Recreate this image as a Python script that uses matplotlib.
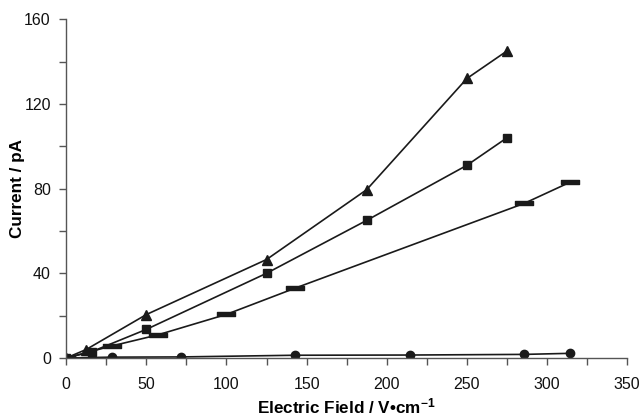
import matplotlib
matplotlib.use('Agg')
import matplotlib.pyplot as plt
from matplotlib.ticker import MultipleLocator

plt.rcParams['font.family'] = ['Liberation Sans', 'DejaVu Sans']
plt.rcParams['mathtext.fontset'] = 'custom'
plt.rcParams['mathtext.rm'] = 'Liberation Sans:bold'
plt.rcParams['mathtext.default'] = 'rm'

# data
tri_x = [0, 12.5, 50, 125, 187.5, 250, 275]
tri_y = [0, 4, 20.5, 46.5, 79.5, 132, 145]

sq_x = [0, 16, 50, 125, 187.5, 250, 275]
sq_y = [0, 3, 13.5, 40, 65, 91, 104]

dash_x = [0, 28.6, 57.1, 100, 142.9, 285.7, 314.3]
dash_y = [0, 5.7, 10.9, 20.6, 33, 73, 83]

circ_x = [0, 28.6, 71.4, 142.9, 214.3, 285.7, 314.3]
circ_y = [0, 0.4, 0.5, 1.3, 1.4, 1.7, 2.2]

dash_marker = [(-3, -0.8), (3, -0.8), (3, 0.8), (-3, 0.8), (-3, -0.8)]

fig = plt.figure(figsize=(6.42, 4.17), dpi=100)
ax = fig.add_axes([0.103, 0.1415, 0.874, 0.8125])

ax.plot(tri_x, tri_y, color='#1a1a1a', lw=1.2, marker='^', ms=6.5)
ax.plot(sq_x, sq_y, color='#1a1a1a', lw=1.2, marker='s', ms=5.5)
ax.plot(dash_x, dash_y, color='#1a1a1a', lw=1.2, marker=dash_marker, ms=13)
ax.plot(circ_x, circ_y, color='#1a1a1a', lw=1.2, marker='o', ms=6)

ax.set_xlim(0, 350)
ax.set_ylim(0, 160)
ax.xaxis.set_major_locator(MultipleLocator(50))
ax.xaxis.set_minor_locator(MultipleLocator(25))
ax.yaxis.set_major_locator(MultipleLocator(40))
ax.yaxis.set_minor_locator(MultipleLocator(20))

for s in ['top', 'right']:
    ax.spines[s].set_visible(False)
for s in ['left', 'bottom']:
    ax.spines[s].set_color('#555555')
    ax.spines[s].set_linewidth(1.0)

ax.tick_params(which='both', direction='out', length=5, width=1, color='#555555',
               labelsize=11.5, labelcolor='#111111')
ax.tick_params(axis='x', which='major', pad=9)
ax.tick_params(axis='y', which='major', pad=6)

ax.set_xlabel('Electric Field / V\u2022cm$^{-1}$', fontsize=12.3, fontweight='bold')
ax.xaxis.label.set_verticalalignment('baseline')
ax.xaxis.set_label_coords(0.5, -0.163)
ax.set_ylabel('Current / pA', fontsize=12.3, fontweight='bold')
ax.yaxis.set_label_coords(-0.073, 0.5)

fig.savefig('out.png', dpi=100)
